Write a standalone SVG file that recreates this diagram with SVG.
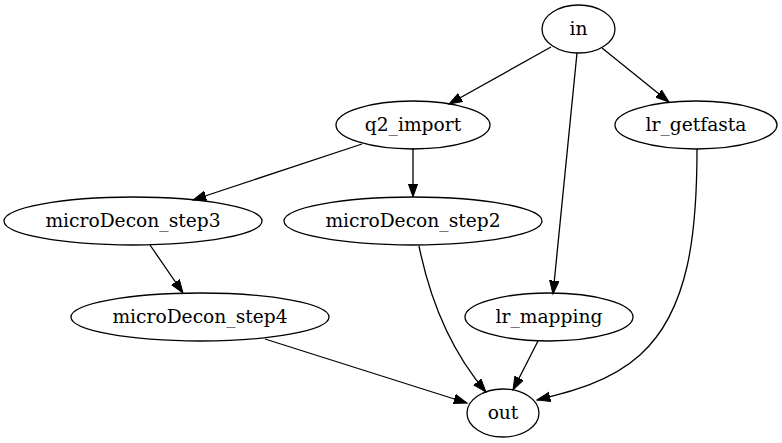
<svg xmlns="http://www.w3.org/2000/svg" width="782" height="443" viewBox="0 0 782 443">
<style>
.node ellipse{fill:none;stroke:#000;stroke-width:1.3}
.node text{font-family:'DejaVu Serif','Liberation Serif',serif;font-size:18.67px;text-anchor:middle;fill:#000}
.edge path{fill:none;stroke:#000;stroke-width:1.3}
</style>
<defs>
<marker id="arr" markerUnits="userSpaceOnUse" markerWidth="16" markerHeight="12" refX="13.3" refY="5" orient="auto" viewBox="0 0 16 12">
<path d="M0,0.3 L13.3,5 L0,9.7 z" fill="#000" stroke="#000" stroke-width="1"/>
</marker>
</defs>
<rect width="782" height="443" fill="#fff"/>
<g id="edges" class="edge">
<path d="M551,47 L449,104" marker-end="url(#arr)"/>
<path d="M602,48 L669,102" marker-end="url(#arr)"/>
<path d="M577,53 L553,294" marker-end="url(#arr)"/>
<path d="M413,148 L413,197" marker-end="url(#arr)"/>
<path d="M362,144 L193,200" marker-end="url(#arr)"/>
<path d="M150,245 L183,293" marker-end="url(#arr)"/>
<path d="M265,339 L467,403" marker-end="url(#arr)"/>
<path d="M419,246 C430,300 450,350 486,392" marker-end="url(#arr)"/>
<path d="M538,341 L513,390" marker-end="url(#arr)"/>
<path d="M697,149 C697,230 690,310 640,355 C610,382 570,392 537,400" marker-end="url(#arr)"/>
</g>
<g id="in" class="node"><ellipse cx="578.5" cy="29" rx="36.5" ry="24"/><text x="578.5" y="35" font-family="DejaVu Serif, serif">in</text></g>
<g id="q2_import" class="node"><ellipse cx="413" cy="125" rx="77" ry="24"/><text x="413" y="131" font-family="DejaVu Serif, serif">q2_import</text></g>
<g id="lr_getfasta" class="node"><ellipse cx="696" cy="125" rx="81" ry="24"/><text x="696" y="131" font-family="DejaVu Serif, serif">lr_getfasta</text></g>
<g id="microDecon_step3" class="node"><ellipse cx="133" cy="221" rx="129" ry="24"/><text x="133" y="227" font-family="DejaVu Serif, serif">microDecon_step3</text></g>
<g id="microDecon_step2" class="node"><ellipse cx="413" cy="221" rx="129" ry="24"/><text x="413" y="227" font-family="DejaVu Serif, serif">microDecon_step2</text></g>
<g id="microDecon_step4" class="node"><ellipse cx="200" cy="317" rx="129" ry="24"/><text x="200" y="323" font-family="DejaVu Serif, serif">microDecon_step4</text></g>
<g id="lr_mapping" class="node"><ellipse cx="549" cy="317" rx="84" ry="24"/><text x="549" y="323" font-family="DejaVu Serif, serif">lr_mapping</text></g>
<g id="out" class="node"><ellipse cx="503" cy="413" rx="36" ry="24"/><text x="503" y="419" font-family="DejaVu Serif, serif">out</text></g>
</svg>
